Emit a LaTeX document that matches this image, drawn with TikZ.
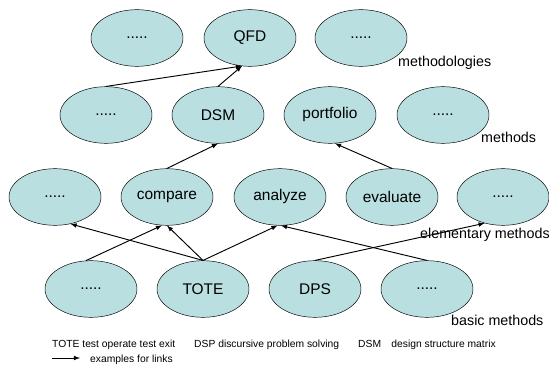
\documentclass[tikz,border=0pt]{standalone}
\usepackage{fontspec}
\setmainfont{Liberation Sans}
\usetikzlibrary{shapes.geometric}

\definecolor{nodecyan}{RGB}{185,223,225}

\begin{document}
\begin{tikzpicture}[>=latex, x=0.03cm, y=-0.03cm]
    \tikzset{
        meth/.style={ellipse, draw, fill=nodecyan, minimum width=2.76cm, minimum height=1.7cm, inner sep=0pt, font=\fontsize{13.2}{15}\selectfont},
        level/.style={anchor=base west, inner sep=0pt, font=\fontsize{12.2}{14}\selectfont},
        legend/.style={anchor=base west, inner sep=0pt},
        link/.style={->, thick}
    }
    \useasboundingbox (0,0) rectangle (549,367);

    % methodologies
    \node[meth] (M1) at (137,38) {.....};
    \node[meth] (QFD) at (250,38) {QFD};
    \node[meth] (M3) at (361,38) {.....};
    \node[level] at (398,67) {methodologies};

    % methods
    \node[meth] (D1) at (106,115) {.....};
    \node[meth] (DSM) at (218,115) {DSM};
    \node[meth] (PF) at (330,115) {portfolio};
    \node[meth] (D4) at (443,115) {.....};
    \node[level] at (481,143) {methods};

    % elementary methods
    \node[meth] (E1) at (55,197) {.....};
    \node[meth] (CMP) at (167,197) {compare};
    \node[meth] (ANA) at (280,197) {analyze};
    \node[meth] (EVA) at (392,197) {evaluate};
    \node[meth] (E5) at (503,197) {.....};
    \node[level] at (420,238) {elementary methods};

    % basic methods
    \node[meth] (B1) at (91,289) {.....};
    \node[meth] (TOTE) at (203,289) {TOTE};
    \node[meth] (DPS) at (315,289) {DPS};
    \node[meth] (B4) at (427,289) {.....};
    \node[level] at (451,325) {basic methods};

    % links
    \coordinate (q_in) at (242,66);
    \draw[link] (D1.north) -- (q_in);
    \draw[link] (DSM.north) -- (q_in);
    \draw[link] (CMP.north) -- (DSM.south);
    \draw[link] (EVA.north) -- (PF.-80);
    \draw[link] (TOTE.north) -- (E1.-60);
    \draw[link] (TOTE.north) -- (CMP.south);
    \draw[link] (TOTE.north) -- (ANA.-95);
    \draw[link] (B1.100) -- (CMP.-100);
    \draw[link] (B4.north) -- (ANA.-88);
    \draw[link] (DPS.north) -- (E5.-125);

    % legend
    \begin{scope}[font=\fontsize{8.8}{10}\selectfont]
        \node[legend] (lg1) at (52,347) {TOTE test operate test exit};
        \node[legend] (lg2) at (194,347) {DSP discursive problem solving};
        \node[legend] (lg3) at (358,347) {DSM\hspace{1em}design structure matrix};
        \node[legend] (lg4) at (90,362) {examples for links};
        \coordinate (ar_s) at (52,358);
        \draw[link] (ar_s) -- ++(28,0);
    \end{scope}
\end{tikzpicture}
\end{document}
